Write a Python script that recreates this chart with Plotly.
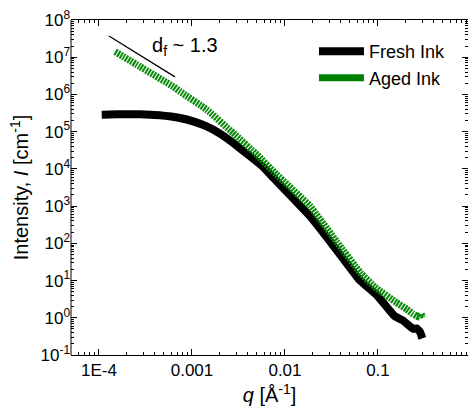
import plotly.graph_objects as go

# Fresh ink (black)
q_fresh = [1.07e-4, 1.58e-4, 2.76e-4, 4.47e-4, 7.43e-4, 1.05e-3, 1.44e-3, 2.0e-3,
           2.77e-3, 4.21e-3, 5.85e-3, 7.50e-3, 1.86e-2, 3.39e-2, 6.3e-2, 9.8e-2,
           1.50e-1, 1.87e-1, 2.40e-1, 2.60e-1, 2.83e-1, 3.0e-1]
I_fresh = [2.85e5, 2.92e5, 2.95e5, 2.75e5, 2.33e5, 1.86e5, 1.38e5, 8.9e4,
           5.0e4, 2.19e4, 1.12e4, 5.75e3, 537, 80, 10.5, 4.0,
           1.12, 0.83, 0.50, 0.52, 0.42, 0.28]

# Aged ink (green)
q_aged = [1.49e-4, 2.76e-4, 6.3e-4, 7.43e-4, 1.44e-3, 2.77e-3, 5.0e-3, 8.1e-3,
          1.86e-2, 3.6e-2, 6.5e-2, 9.3e-2, 1.58e-1, 2.04e-1, 2.35e-1, 2.6e-1,
          2.75e-1, 2.92e-1, 3.0e-1]
I_aged = [1.41e7, 5.6e6, 1.62e6, 1.2e6, 3.9e5, 9.2e4, 2.4e4, 7.1e3,
          1.0e3, 110, 16, 6.6, 2.57, 1.7, 1.3, 1.12,
          1.05, 1.25, 1.0]

# Guide line for d_f ~ 1.3
q_guide = [1.28e-4, 6.56e-4]
I_guide = [3.73e7, 2.97e6]

y_tickvals = [1e-1, 1e0, 1e1, 1e2, 1e3, 1e4, 1e5, 1e6, 1e7, 1e8]
y_ticktext = ["10<sup>-1</sup>", "10<sup>0</sup>", "10<sup>1</sup>", "10<sup>2</sup>",
              "10<sup>3</sup>", "10<sup>4</sup>", "10<sup>5</sup>", "10<sup>6</sup>",
              "10<sup>7</sup>", "10<sup>8</sup>"]
x_tickvals = [1e-4, 1e-3, 1e-2, 1e-1, 1]
x_ticktext = ["1E-4", "0.001", "0.01", "0.1", "1"]

x_minor = [m * 10.0 ** e for e in range(-5, 0) for m in range(2, 10)]
y_minor = [m * 10.0 ** e for e in range(-1, 8) for m in range(2, 10)]

FONT = "Arial, Liberation Sans, sans-serif"

fig = go.Figure()
fig.add_trace(go.Scatter(x=q_fresh, y=I_fresh, mode="lines", name="Fresh Ink",
                         line=dict(color="black", width=8, shape="spline", smoothing=0.3)))
fig.add_trace(go.Scatter(x=q_aged, y=I_aged, mode="lines", name="Aged Ink", showlegend=False,
                         line=dict(color="#0a8a0a", width=7, dash="2px,1px", shape="spline", smoothing=0.3)))
fig.add_trace(go.Scatter(x=[None], y=[None], mode="lines", name="Aged Ink",
                         line=dict(color="#008000", width=7)))
fig.add_trace(go.Scatter(x=q_guide, y=I_guide, mode="lines", showlegend=False,
                         line=dict(color="black", width=1.3)))

fig.add_annotation(x=-3.452, y=7.30, xref="x", yref="y", text="d<sub>f</sub> ~ 1.3",
                   showarrow=False, xanchor="left", yanchor="middle",
                   font=dict(family=FONT, size=20, color="black"))

# left spine only (right spine lies outside the visible window)
fig.add_shape(type="line", xref="paper", yref="paper", x0=0, x1=0, y0=0, y1=1,
              line=dict(color="black", width=1))

tickfont = dict(family=FONT, size=17, color="black")

fig.update_layout(
    xaxis=dict(type="log", range=[-4.301, -0.032], tickmode="array",
               tickvals=x_tickvals, ticktext=x_ticktext,
               showgrid=False, zeroline=False, showline=True, linecolor="black", linewidth=1,
               mirror="ticks", ticks="inside", ticklen=6, tickcolor="black", tickfont=tickfont,
               minor=dict(tickmode="array", tickvals=x_minor, ticks="inside",
                          ticklen=3, tickcolor="black", showgrid=False),
               title=dict(text="<i>q</i> [Å<sup>-1</sup>]",
                          font=dict(family=FONT, size=20, color="black"), standoff=8)),
    yaxis=dict(type="log", range=[-1, 8], tickmode="array",
               tickvals=y_tickvals, ticktext=y_ticktext,
               showgrid=False, zeroline=False, showline=False,
               mirror="ticks", ticks="inside", ticklen=6, tickcolor="black", tickfont=tickfont,
               minor=dict(tickmode="array", tickvals=y_minor, ticks="inside",
                          ticklen=3, tickcolor="black", showgrid=False),
               title=dict(text="Intensity, <i>I</i> [cm<sup>-1</sup>]",
                          font=dict(family=FONT, size=20, color="black"), standoff=6)),
    width=468, height=418, margin=dict(l=71, r=0, t=20, b=63),
    paper_bgcolor="white", plot_bgcolor="white",
    font=dict(family=FONT, color="black"),
    legend=dict(x=0.612, y=0.961, xanchor="left", yanchor="top", itemwidth=45,
                bgcolor="rgba(0,0,0,0)", font=dict(family=FONT, size=18, color="black"),
                tracegroupgap=0),
)

fig.write_html("out.html")
